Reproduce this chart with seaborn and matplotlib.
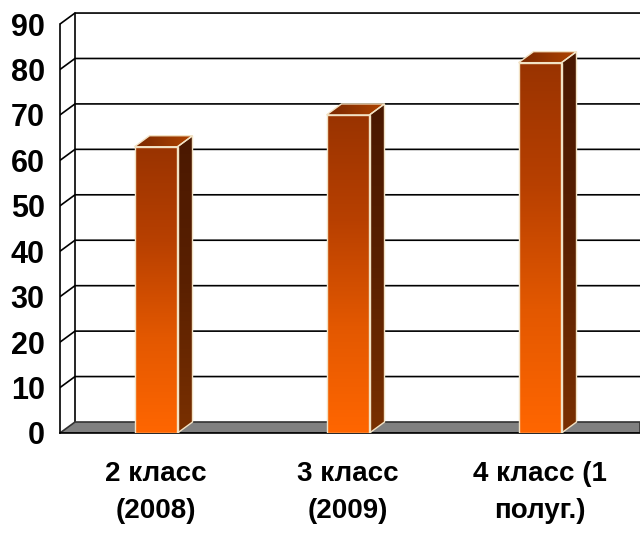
import numpy as np
import matplotlib
matplotlib.use("Agg")
import matplotlib.pyplot as plt
from matplotlib.colors import LinearSegmentedColormap
from matplotlib.patches import Polygon
import seaborn as sns
import pandas as pd

# data
categories = ["2 класс\n(2008)", "3 класс\n(2009)", "4 класс (1\nполуг.)"]
values = [63, 70, 81.5]
y_ticks = list(range(0, 100, 10))

# pixel -> data conversions (1 category = 192 px, 10 units = 45.44 px)
PX_X = 1 / 192
PX_Y = 1 / 4.544
DX, DY = 15 * PX_X, 11 * PX_Y
X_LEFT = -0.5
X_RIGHT = -0.5 + 580 * PX_X
Y_TOP = 92.6

front_cmap = LinearSegmentedColormap.from_list("front", ["#ff6600", "#e35800", "#b84000", "#993300"])
side_cmap = LinearSegmentedColormap.from_list("side", ["#7a3000", "#5a2000", "#4a1800"])
top_cmap = LinearSegmentedColormap.from_list("top", ["#7a2800", "#b04400"])
EDGE = "#f2e2c4"

sns.set_style("white")
plt.rcParams['font.family'] = ['Liberation Sans', 'DejaVu Sans']

fig = plt.figure(figsize=(6.4, 5.34), dpi=100)
ax = fig.add_axes([60 / 640, 101 / 534, 580 / 640, Y_TOP / PX_Y / 534 * PX_Y * 4.544 * PX_Y / PX_Y])

df = pd.DataFrame({"cat": categories, "val": values})
sns.barplot(data=df, x="cat", y="val", width=43 / 192, color="#ff6600", ax=ax, zorder=3)
bars = list(ax.patches)

grad = np.linspace(0, 1, 256).reshape(-1, 1)
for bar in bars:
    x0, y0 = bar.get_x(), bar.get_y()
    x1, h = x0 + bar.get_width(), bar.get_height()
    # front face gradient
    im = ax.imshow(grad, origin="lower", cmap=front_cmap, extent=[x0, x1, y0, h],
                   aspect="auto", zorder=3)
    im.set_clip_path(bar)
    bar.set_facecolor("none")
    bar.set_edgecolor(EDGE)
    bar.set_linewidth(1)
    bar.set_zorder(4)
    # side face
    side = Polygon([(x1, 0), (x1 + DX, DY), (x1 + DX, h + DY), (x1, h)],
                   closed=True, facecolor="none", edgecolor=EDGE, lw=1, zorder=4)
    ax.add_patch(side)
    im = ax.imshow(grad, origin="lower", cmap=side_cmap, extent=[x1, x1 + DX, 0, h + DY],
                   aspect="auto", zorder=3)
    im.set_clip_path(side)
    # top face
    top = Polygon([(x0, h), (x1, h), (x1 + DX, h + DY), (x0 + DX, h + DY)],
                  closed=True, facecolor="none", edgecolor=EDGE, lw=1, zorder=4)
    ax.add_patch(top)
    im = ax.imshow(grad.T, origin="lower", cmap=top_cmap, extent=[x0, x1 + DX, h, h + DY],
                   aspect="auto", zorder=3)
    im.set_clip_path(top)

# floor
floor = Polygon([(X_LEFT, 0), (X_RIGHT, 0), (X_RIGHT, DY), (X_LEFT + DX, DY)],
                closed=True, facecolor="#808080", edgecolor="#333333", lw=1.2, zorder=2)
ax.add_patch(floor)

# back wall and gridlines
ax.plot([X_LEFT + DX] * 2, [DY, y_ticks[-1] + DY], color="black", lw=1.2, zorder=1)
for v in y_ticks[1:]:
    ax.plot([X_LEFT, X_LEFT + DX, X_RIGHT], [v, v + DY, v + DY], color="black", lw=1.2, zorder=1)

ax.set_xlim(X_LEFT, X_RIGHT)
ax.set_ylim(0, Y_TOP)

for s in ["top", "right"]:
    ax.spines[s].set_visible(False)
ax.spines["left"].set_bounds(0, y_ticks[-1])
ax.spines["left"].set_color("black")
ax.spines["bottom"].set_color("black")
ax.spines["left"].set_linewidth(1.2)
ax.spines["bottom"].set_linewidth(1.2)

ax.set_yticks(y_ticks)
ax.set_yticklabels([str(v) for v in y_ticks], fontsize=22, fontweight="bold",
                   family=['Liberation Sans Narrow', 'Liberation Sans', 'DejaVu Sans'])
ax.tick_params(axis="y", length=4, width=1.2, direction="out", pad=7, colors="black")

ax.set_xticks([X_LEFT, 0.5, 1.5, 2.5])
ax.set_xticklabels([])
ax.set_xticks([0, 1, 2], minor=True)
ax.set_xticklabels(categories, minor=True, fontsize=20, fontweight="bold", linespacing=1.55)
ax.tick_params(axis="x", which="major", length=7, width=1.2, direction="out", colors="black")
ax.tick_params(axis="x", which="minor", length=0, pad=20, labelcolor="black")
ax.set_xlabel("")
ax.set_ylabel("")

fig.savefig("out.png", dpi=100)
plt.close(fig)
